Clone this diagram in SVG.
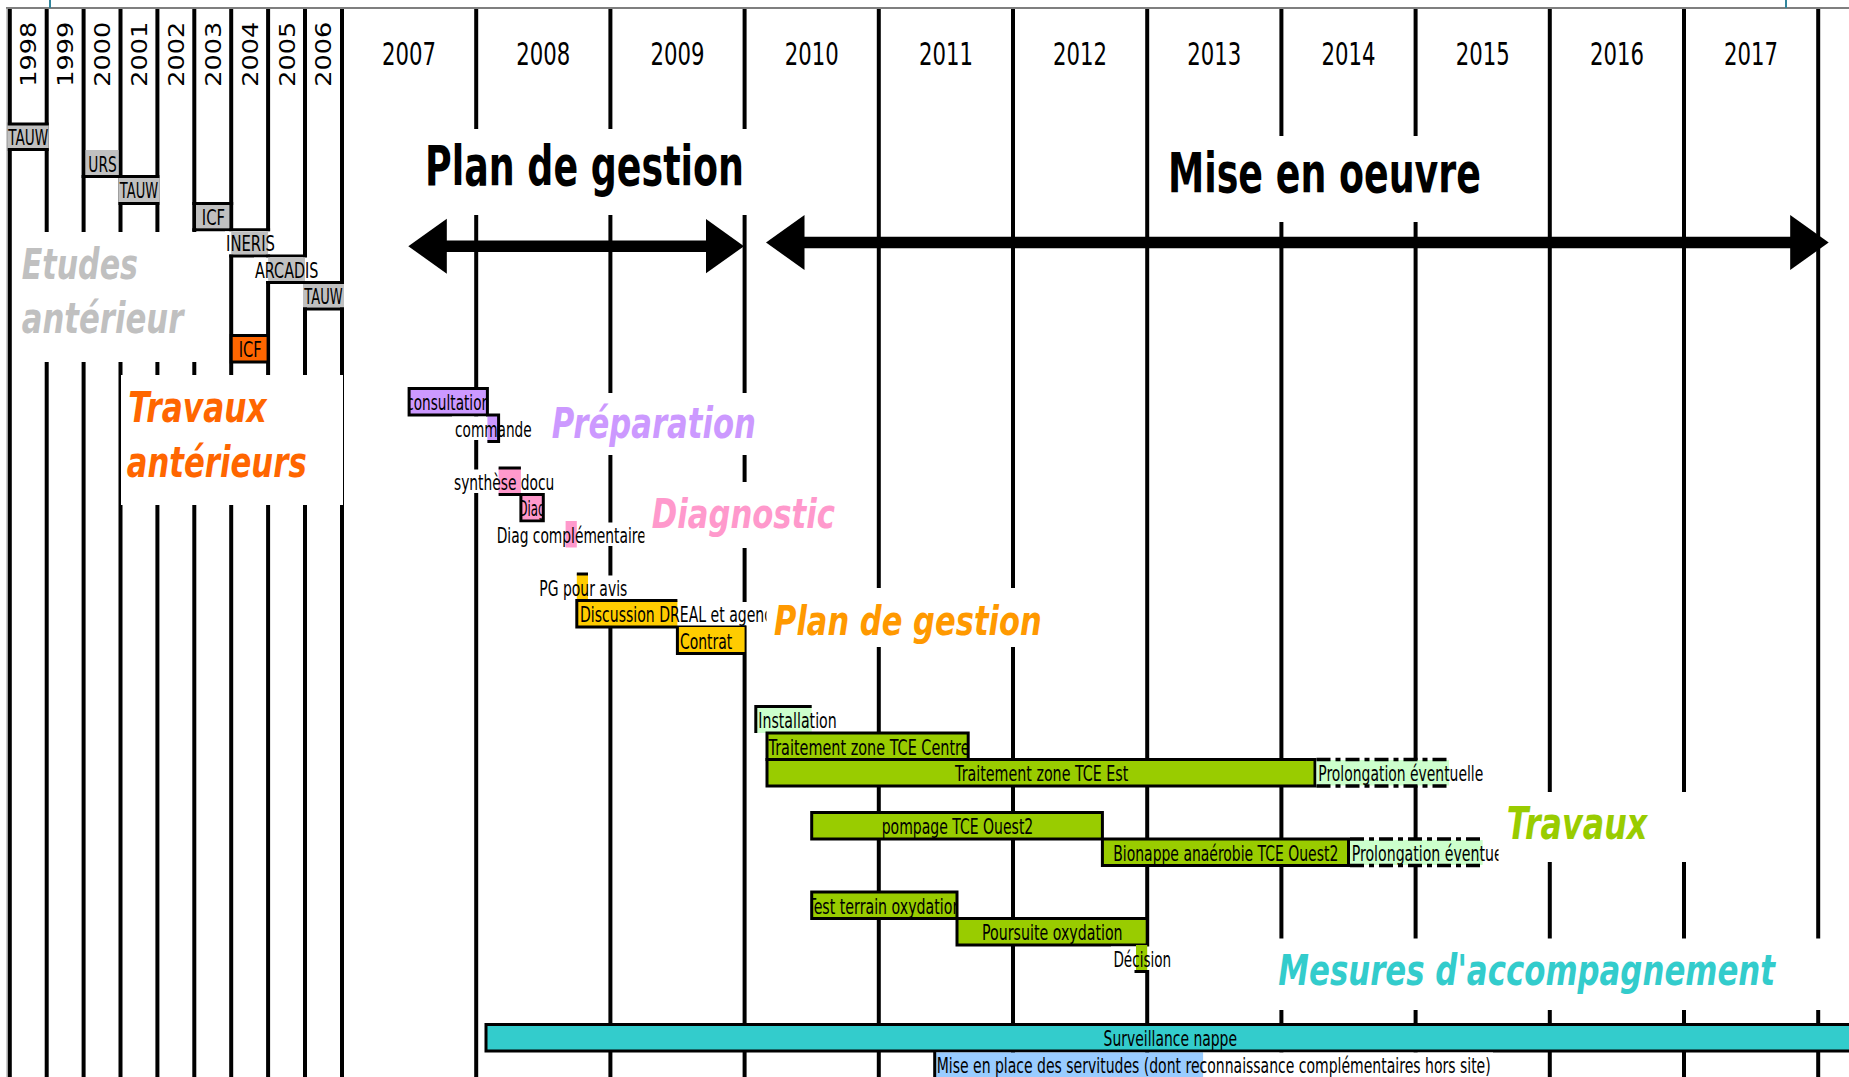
<svg xmlns="http://www.w3.org/2000/svg" width="1849" height="1077" viewBox="0 0 1849 1077">
<defs>
<style>
.t{font-family:"DejaVu Sans","Liberation Sans",sans-serif;font-size:21px;fill:#000}
.yr{font-size:32px}
.ey{font-size:22px}
.big{font-weight:bold;font-size:55px}
.lab{font-weight:bold;font-style:italic;font-size:43px}
.grid line{stroke:#000;stroke-width:4}
.bd{fill:none;stroke:#000;stroke-width:3}
.w{fill:#fff}
.gr{fill:#c0c0c0}
.dd{stroke:#000;stroke-width:3.5;stroke-dasharray:14 5 5 5;fill:none}
.arrow{stroke:#000;stroke-width:11.5;fill:none}
</style>
<marker id="ah" markerUnits="userSpaceOnUse" markerWidth="40" markerHeight="56" viewBox="0 0 40 56" refX="19" refY="27.5" orient="auto-start-reverse"><path d="M0,0 L38.5,27.5 L0,55 z" fill="#000"/></marker>
<clipPath id="cCons"><rect x="409.1" y="388.5" width="78.3" height="26.5"/></clipPath>
<clipPath id="cDiag"><rect x="520.9" y="494.5" width="22.4" height="26.5"/></clipPath>
<clipPath id="cDiagC"><rect x="480" y="521" width="164.5" height="26.5"/></clipPath>
<clipPath id="cDisc"><rect x="570" y="600.5" width="196.5" height="26.5"/></clipPath>
<clipPath id="cCentre"><rect x="767" y="733" width="201.2" height="26.5"/></clipPath>
<clipPath id="cProl2"><rect x="1348.5" y="839" width="150" height="26.5"/></clipPath>
<clipPath id="cTest"><rect x="811.7" y="892" width="145.3" height="26.5"/></clipPath>
</defs>
<rect x="0" y="0" width="1849" height="1077" fill="#fff"/>
<g id="frame">
<line x1="6" y1="8" x2="1849" y2="8" stroke="#555" stroke-width="1.5"/>
<line x1="7" y1="8" x2="7" y2="1077" stroke="#999" stroke-width="1"/>
<line x1="50" y1="0" x2="50" y2="8" stroke="#31859c" stroke-width="2"/>
<line x1="1786" y1="0" x2="1786" y2="8" stroke="#31859c" stroke-width="2"/>
</g>
<g id="grid" class="grid">
<line x1="9.8" y1="9" x2="9.8" y2="1077"/>
<line x1="46.7" y1="9" x2="46.7" y2="1077"/>
<line x1="83.6" y1="9" x2="83.6" y2="1077"/>
<line x1="120.5" y1="9" x2="120.5" y2="1077"/>
<line x1="157.4" y1="9" x2="157.4" y2="1077"/>
<line x1="194.3" y1="9" x2="194.3" y2="1077"/>
<line x1="231.2" y1="9" x2="231.2" y2="1077"/>
<line x1="268.1" y1="9" x2="268.1" y2="1077"/>
<line x1="305" y1="9" x2="305" y2="1077"/>
<line x1="342" y1="9" x2="342" y2="1077"/>
<line x1="476.2" y1="9" x2="476.2" y2="1077"/>
<line x1="610.4" y1="9" x2="610.4" y2="1077"/>
<line x1="744.6" y1="9" x2="744.6" y2="1077"/>
<line x1="878.8" y1="9" x2="878.8" y2="1077"/>
<line x1="1013" y1="9" x2="1013" y2="1077"/>
<line x1="1147.2" y1="9" x2="1147.2" y2="1077"/>
<line x1="1281.4" y1="9" x2="1281.4" y2="1077"/>
<line x1="1415.6" y1="9" x2="1415.6" y2="1077"/>
<line x1="1549.8" y1="9" x2="1549.8" y2="1077"/>
<line x1="1684" y1="9" x2="1684" y2="1077"/>
<line x1="1818.2" y1="9" x2="1818.2" y2="1077"/>
</g>
<g id="years">
<text class="t ey" transform="translate(36.25,54.2) rotate(-90)" text-anchor="middle" textLength="65" lengthAdjust="spacingAndGlyphs">1998</text>
<text class="t ey" transform="translate(73.15,54.2) rotate(-90)" text-anchor="middle" textLength="65" lengthAdjust="spacingAndGlyphs">1999</text>
<text class="t ey" transform="translate(110.05,54.2) rotate(-90)" text-anchor="middle" textLength="65" lengthAdjust="spacingAndGlyphs">2000</text>
<text class="t ey" transform="translate(146.95,54.2) rotate(-90)" text-anchor="middle" textLength="65" lengthAdjust="spacingAndGlyphs">2001</text>
<text class="t ey" transform="translate(183.85,54.2) rotate(-90)" text-anchor="middle" textLength="65" lengthAdjust="spacingAndGlyphs">2002</text>
<text class="t ey" transform="translate(220.75,54.2) rotate(-90)" text-anchor="middle" textLength="65" lengthAdjust="spacingAndGlyphs">2003</text>
<text class="t ey" transform="translate(257.65,54.2) rotate(-90)" text-anchor="middle" textLength="65" lengthAdjust="spacingAndGlyphs">2004</text>
<text class="t ey" transform="translate(294.55,54.2) rotate(-90)" text-anchor="middle" textLength="65" lengthAdjust="spacingAndGlyphs">2005</text>
<text class="t ey" transform="translate(331.45,54.2) rotate(-90)" text-anchor="middle" textLength="65" lengthAdjust="spacingAndGlyphs">2006</text>
<text class="t yr" x="409.1" y="65" text-anchor="middle" textLength="54" lengthAdjust="spacingAndGlyphs">2007</text>
<text class="t yr" x="543.3" y="65" text-anchor="middle" textLength="54" lengthAdjust="spacingAndGlyphs">2008</text>
<text class="t yr" x="677.5" y="65" text-anchor="middle" textLength="54" lengthAdjust="spacingAndGlyphs">2009</text>
<text class="t yr" x="811.7" y="65" text-anchor="middle" textLength="54" lengthAdjust="spacingAndGlyphs">2010</text>
<text class="t yr" x="945.9" y="65" text-anchor="middle" textLength="54" lengthAdjust="spacingAndGlyphs">2011</text>
<text class="t yr" x="1080.1" y="65" text-anchor="middle" textLength="54" lengthAdjust="spacingAndGlyphs">2012</text>
<text class="t yr" x="1214.3" y="65" text-anchor="middle" textLength="54" lengthAdjust="spacingAndGlyphs">2013</text>
<text class="t yr" x="1348.5" y="65" text-anchor="middle" textLength="54" lengthAdjust="spacingAndGlyphs">2014</text>
<text class="t yr" x="1482.7" y="65" text-anchor="middle" textLength="54" lengthAdjust="spacingAndGlyphs">2015</text>
<text class="t yr" x="1616.9" y="65" text-anchor="middle" textLength="54" lengthAdjust="spacingAndGlyphs">2016</text>
<text class="t yr" x="1751.1" y="65" text-anchor="middle" textLength="54" lengthAdjust="spacingAndGlyphs">2017</text>
</g>
<g id="phase-plan">
<rect class="w" x="345" y="129" width="403" height="86"/>
<text class="t big" x="425" y="185" textLength="319" lengthAdjust="spacingAndGlyphs">Plan de gestion</text>
</g>
<g id="phase-mise">
<rect class="w" x="1150" y="136" width="397" height="86"/>
<text class="t big" x="1168" y="191.7" textLength="313" lengthAdjust="spacingAndGlyphs">Mise en oeuvre</text>
</g>
<g id="label-etudes">
<rect class="w" x="12" y="232" width="217" height="130"/>
<text class="t lab" x="21.7" y="279" font-size="42" fill="#c0c0c0" style="fill:#c0c0c0;font-size:42px" textLength="116.3" lengthAdjust="spacingAndGlyphs">Etudes</text>
<text class="t lab" x="21.7" y="333" style="fill:#c0c0c0;font-size:42px" textLength="161.6" lengthAdjust="spacingAndGlyphs">antérieur</text>
</g>
<g id="label-travaux-ant">
<rect class="w" x="121" y="375" width="222" height="130"/>
<text class="t lab" x="128.3" y="421.7" style="fill:#ff6600" textLength="138.4" lengthAdjust="spacingAndGlyphs">Travaux</text>
<text class="t lab" x="126.7" y="476.7" style="fill:#ff6600" textLength="180" lengthAdjust="spacingAndGlyphs">antérieurs</text>
</g>
<g id="e-tauw-1998">
<rect class="gr" x="7.8" y="125" width="40.9" height="23.5"/>
<path class="bd" d="M7.8,124 H48.7 M7.8,149.5 H48.7"/>
<text class="t" x="28.3" y="145" text-anchor="middle" textLength="40" lengthAdjust="spacingAndGlyphs">TAUW</text>
</g>
<g id="e-urs-2000">
<rect class="gr" x="85.6" y="150" width="32.9" height="25"/>
<text class="t" x="102.5" y="171.5" text-anchor="middle" textLength="28.4" lengthAdjust="spacingAndGlyphs">URS</text>
</g>
<g id="e-tauw-2001">
<rect class="gr" x="118.5" y="178" width="41" height="24"/>
<path class="bd" d="M81.6,176.5 H159.4 M118.5,203.5 H159.4"/>
<text class="t" x="139" y="198" text-anchor="middle" textLength="38.3" lengthAdjust="spacingAndGlyphs">TAUW</text>
</g>
<g id="e-icf-2003">
<rect class="gr" x="196.3" y="205" width="32.9" height="23"/>
<path class="bd" d="M192.3,203.5 H233.2 M192.3,229.8 H270.1"/>
<text class="t" x="213.4" y="224.5" text-anchor="middle" textLength="23.3" lengthAdjust="spacingAndGlyphs">ICF</text>
</g>
<g id="e-ineris-2004">
<rect class="w" x="225" y="231.3" width="52" height="23.2"/>
<rect class="gr" x="231.2" y="231.3" width="36.9" height="23.2"/>
<path class="bd" d="M229.2,256 H307"/>
<text class="t" x="250.5" y="251" text-anchor="middle" textLength="49" lengthAdjust="spacingAndGlyphs">INERIS</text>
</g>
<g id="e-arcadis-2005">
<rect class="w" x="254" y="257.5" width="66" height="23.5"/>
<rect class="gr" x="268.1" y="257.5" width="36.9" height="23.5"/>
<path class="bd" d="M266.1,282.5 H344"/>
<text class="t" x="286.7" y="277.5" text-anchor="middle" textLength="63.3" lengthAdjust="spacingAndGlyphs">ARCADIS</text>
</g>
<g id="e-tauw-2006">
<rect class="gr" x="303" y="284" width="41" height="23.5"/>
<path class="bd" d="M303,309 H344"/>
<text class="t" x="323.5" y="304" text-anchor="middle" textLength="38.3" lengthAdjust="spacingAndGlyphs">TAUW</text>
</g>
<g id="e-icf-2004">
<rect x="231.2" y="335.5" width="36.9" height="26.5" fill="#ff6600" stroke="#000" stroke-width="3"/>
<text class="t" x="250.2" y="357" text-anchor="middle" textLength="23" lengthAdjust="spacingAndGlyphs">ICF</text>
</g>
<g id="label-preparation">
<rect class="w" x="548" y="393" width="212" height="62"/>
<text class="t lab" x="551.7" y="438.3" style="fill:#cc99ff" textLength="204.3" lengthAdjust="spacingAndGlyphs">Préparation</text>
</g>
<g id="label-diagnostic">
<rect class="w" x="646" y="482" width="194" height="66"/>
<text class="t lab" x="651.7" y="528.3" style="fill:#ff99cc;font-size:41px" textLength="183.3" lengthAdjust="spacingAndGlyphs">Diagnostic</text>
</g>
<g id="label-plan">
<rect class="w" x="767" y="588" width="377" height="59"/>
<text class="t lab" x="774" y="635" style="fill:#ff9900;font-size:41px" textLength="267.7" lengthAdjust="spacingAndGlyphs">Plan de gestion</text>
</g>
<g id="label-travaux">
<rect class="w" x="1499" y="792" width="301" height="70"/>
<text class="t lab" x="1506.7" y="839" style="fill:#99cc00;font-size:44px" textLength="140.6" lengthAdjust="spacingAndGlyphs">Travaux</text>
</g>
<g id="label-mesures">
<rect class="w" x="1276" y="938.5" width="573" height="71.5"/>
<text class="t lab" x="1278.3" y="985" style="fill:#33cccc" textLength="496.7" lengthAdjust="spacingAndGlyphs">Mesures d'accompagnement</text>
</g>
<g id="t-consultation">
<rect x="409.1" y="388.5" width="78.3" height="26.5" fill="#cc99ff" stroke="#000" stroke-width="3"/>
<text class="t" x="448.2" y="410" text-anchor="middle" textLength="84" lengthAdjust="spacingAndGlyphs" clip-path="url(#cCons)">consultation</text>
</g>
<g id="t-commande">
<rect class="w" x="452" y="416.5" width="84" height="23.5"/>
<rect x="487.4" y="415" width="11.2" height="26.5" fill="#cc99ff"/>
<path class="bd" d="M486,415 H498.6 V441.5 H487.4"/>
<text class="t" x="455" y="436.5" textLength="76.7" lengthAdjust="spacingAndGlyphs">commande</text>
</g>
<g id="t-synthese">
<rect class="w" x="452" y="469.5" width="104" height="23.5"/>
<rect x="498.6" y="468" width="22.3" height="26.5" fill="#ff99cc"/>
<path class="bd" d="M498.6,468 H520.9 M498.6,494.5 H543.3"/>
<text class="t" x="454" y="489.5" textLength="100.3" lengthAdjust="spacingAndGlyphs">synthèse docu</text>
</g>
<g id="t-diag">
<rect x="520.9" y="494.5" width="22.4" height="26.5" fill="#ff99cc" stroke="#000" stroke-width="3"/>
<text class="t" x="518.5" y="516" textLength="27" lengthAdjust="spacingAndGlyphs" clip-path="url(#cDiag)">Diag</text>
</g>
<g id="t-diagcomp">
<rect class="w" x="495" y="522.5" width="149.5" height="23.5"/>
<rect x="565.6" y="521" width="11.2" height="26.5" fill="#ff99cc"/>
<text class="t" x="496.7" y="542.5" textLength="149" lengthAdjust="spacingAndGlyphs" clip-path="url(#cDiagC)">Diag complémentaire</text>
</g>
<g id="t-pgavis">
<rect class="w" x="537" y="575.5" width="93" height="23.5"/>
<rect x="576.8" y="574" width="11.2" height="26.5" fill="#ffcc00"/>
<path class="bd" d="M576.8,574 H588"/>
<text class="t" x="539.3" y="595.5" textLength="88" lengthAdjust="spacingAndGlyphs">PG pour avis</text>
</g>
<g id="t-discussion">
<rect class="w" x="677.4" y="602" width="89.1" height="23.5"/>
<rect x="576.8" y="600.5" width="100.6" height="26.5" fill="#ffcc00"/>
<path class="bd" d="M677.4,600.5 H576.8 V627 H746"/>
<text class="t" x="580" y="622" textLength="192" lengthAdjust="spacingAndGlyphs" clip-path="url(#cDisc)">Discussion DREAL et agenc</text>
</g>
<g id="t-contrat">
<rect x="677.4" y="627" width="67.2" height="26.5" fill="#ffcc00"/>
<path class="bd" d="M677.4,627 V653.5 H746"/>
<text class="t" x="680" y="648.5" textLength="52.3" lengthAdjust="spacingAndGlyphs">Contrat</text>
</g>
<g id="t-installation">
<rect class="w" x="811.7" y="708" width="27" height="23.5"/>
<rect x="755.8" y="706.5" width="55.9" height="26.5" fill="#ccffcc"/>
<path class="bd" d="M755.8,733 V706.5 H811.7"/>
<text class="t" x="758.3" y="728" textLength="78.4" lengthAdjust="spacingAndGlyphs">Installation</text>
</g>
<g id="t-centre">
<rect x="767" y="733" width="201.2" height="26.5" fill="#99cc00" stroke="#000" stroke-width="3"/>
<text class="t" x="768.5" y="754.5" textLength="201" lengthAdjust="spacingAndGlyphs" clip-path="url(#cCentre)">Traitement zone TCE Centre</text>
</g>
<g id="t-est">
<rect x="767" y="759.5" width="548" height="26.5" fill="#99cc00" stroke="#000" stroke-width="3"/>
<text class="t" x="1041.7" y="781" text-anchor="middle" textLength="173.3" lengthAdjust="spacingAndGlyphs">Traitement zone TCE Est</text>
</g>
<g id="t-prolong1">
<rect class="w" x="1449" y="761" width="35" height="23.5"/>
<rect x="1316.5" y="760" width="132.6" height="25.5" fill="#ccffcc"/>
<path class="dd" d="M1316.5,759.5 H1449.1 M1316.5,786 H1449.1"/>
<text class="t" x="1318.3" y="781" textLength="165" lengthAdjust="spacingAndGlyphs">Prolongation éventuelle</text>
</g>
<g id="t-pompage">
<rect x="811.7" y="812.5" width="290.7" height="26.5" fill="#99cc00" stroke="#000" stroke-width="3"/>
<text class="t" x="957.5" y="834" text-anchor="middle" textLength="151.6" lengthAdjust="spacingAndGlyphs">pompage TCE Ouest2</text>
</g>
<g id="t-bionappe">
<rect x="1102.4" y="839" width="246.1" height="26.5" fill="#99cc00" stroke="#000" stroke-width="3"/>
<text class="t" x="1225.8" y="860.5" text-anchor="middle" textLength="225" lengthAdjust="spacingAndGlyphs">Bionappe anaérobie TCE Ouest2</text>
</g>
<g id="t-prolong2">
<rect class="w" x="1482.7" y="840.5" width="15.8" height="23.5"/>
<rect x="1350" y="840" width="132.7" height="25" fill="#ccffcc"/>
<path class="dd" d="M1350,839 H1482.7 M1350,865.5 H1482.7"/>
<text class="t" x="1351.7" y="860.5" textLength="151" lengthAdjust="spacingAndGlyphs" clip-path="url(#cProl2)">Prolongation éventue</text>
</g>
<g id="t-test">
<rect x="811.7" y="892" width="145.3" height="26.5" fill="#99cc00" stroke="#000" stroke-width="3"/>
<text class="t" x="884.4" y="913.5" text-anchor="middle" textLength="154" lengthAdjust="spacingAndGlyphs" clip-path="url(#cTest)">Test terrain oxydation</text>
</g>
<g id="t-poursuite">
<rect x="957" y="918.5" width="190.2" height="26.5" fill="#99cc00" stroke="#000" stroke-width="3"/>
<text class="t" x="1052.3" y="940" text-anchor="middle" textLength="140.6" lengthAdjust="spacingAndGlyphs">Poursuite oxydation</text>
</g>
<g id="t-decision">
<rect class="w" x="1111" y="946.5" width="63" height="23.5"/>
<rect x="1136" y="945" width="11.2" height="26.5" fill="#99cc00"/>
<path class="bd" d="M1134.5,971.5 H1149"/>
<text class="t" x="1113.4" y="966.5" textLength="57.8" lengthAdjust="spacingAndGlyphs">Décision</text>
</g>
<g id="t-surveillance">
<rect x="486" y="1024.5" width="1380" height="26.5" fill="#33cccc" stroke="#000" stroke-width="3"/>
<text class="t" x="1170.3" y="1046" text-anchor="middle" textLength="133.4" lengthAdjust="spacingAndGlyphs">Surveillance nappe</text>
</g>
<g id="t-servitudes">
<rect class="w" x="1203" y="1052.5" width="290" height="24.5"/>
<rect x="934.7" y="1052.5" width="268.4" height="24.5" fill="#99ccff"/>
<path class="bd" d="M934.7,1051 V1077"/>
<text class="t" x="936.7" y="1072.5" textLength="554" lengthAdjust="spacingAndGlyphs">Mise en place des servitudes (dont reconnaissance complémentaires hors site)</text>
</g>
<g id="connectors">
<line class="arrow" x1="427.8" y1="246.2" x2="724.5" y2="246.2" marker-start="url(#ah)" marker-end="url(#ah)"/>
<line class="arrow" x1="785.5" y1="242.5" x2="1809.2" y2="242.5" marker-start="url(#ah)" marker-end="url(#ah)"/>
</g>
</svg>
